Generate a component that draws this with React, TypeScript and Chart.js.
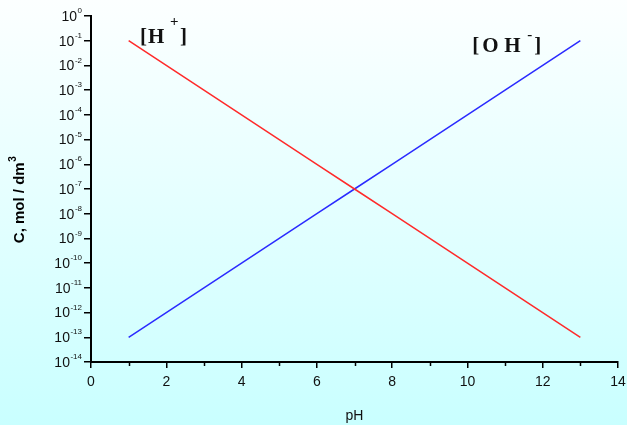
import React, { useEffect, useRef } from 'react';
import { Chart, registerables } from 'chart.js';
Chart.register(...registerables);

// ---- data ----
const PH = [1, 2, 3, 4, 5, 6, 7, 8, 9, 10, 11, 12, 13];
const H_CONC = [1e-1, 1e-2, 1e-3, 1e-4, 1e-5, 1e-6, 1e-7, 1e-8, 1e-9, 1e-10, 1e-11, 1e-12, 1e-13];
const OH_CONC = [1e-13, 1e-12, 1e-11, 1e-10, 1e-9, 1e-8, 1e-7, 1e-6, 1e-5, 1e-4, 1e-3, 1e-2, 1e-1];
const X_MAJOR_STEP = 2;
const X_MINOR_TICKS = [1, 3, 5, 7, 9, 11, 13];
const Y_EXPONENTS = [0, -1, -2, -3, -4, -5, -6, -7, -8, -9, -10, -11, -12, -13, -14];
const X_TITLE = 'pH';
const Y_TITLE = 'C, mol / dm';
const Y_TITLE_SUP = '3';
// annotation label anchors in data coords (pH, concentration)
const H_LABEL = { x: 1.3, y: Math.pow(10, -1.09) };
const OH_LABEL = { x: 10.13, y: Math.pow(10, -1.46) };

const SANS = '"Liberation Sans", Arial, sans-serif';
const SERIF = '"Liberation Serif", "Times New Roman", serif';

const overlay = {
  id: 'overlay',
  afterDraw(chart: any) {
    const ctx = chart.ctx as CanvasRenderingContext2D;
    const xs = chart.scales.x;
    const ys = chart.scales.y;
    const area = chart.chartArea;
    ctx.save();

    // y tick labels 10^e
    ctx.fillStyle = '#111';
    ctx.textBaseline = 'middle';
    for (const e of Y_EXPONENTS) {
      const y = ys.getPixelForValue(Math.pow(10, e));
      const expStr = e === 0 ? '0' : '-' + Math.abs(e);
      ctx.font = '8px ' + SANS;
      const ew = ctx.measureText(expStr).width;
      const right = area.left - 9;
      ctx.textAlign = 'left';
      ctx.fillText(expStr, right - ew, y - 5);
      ctx.font = '14px ' + SANS;
      ctx.textAlign = 'right';
      ctx.fillText('10', right - ew - 0.5, y + 1);
    }

    // minor x ticks
    ctx.strokeStyle = '#000';
    ctx.lineWidth = 1.5;
    for (const v of X_MINOR_TICKS) {
      const px = Math.round(xs.getPixelForValue(v)) + 0.5;
      ctx.beginPath();
      ctx.moveTo(px, area.bottom);
      ctx.lineTo(px, area.bottom + 4);
      ctx.stroke();
    }

    // y title (rotated)
    ctx.save();
    ctx.translate(20, (area.top + area.bottom) / 2 + 11);
    ctx.rotate(-Math.PI / 2);
    ctx.font = 'bold 15px ' + SANS;
    const tw = ctx.measureText(Y_TITLE).width;
    ctx.font = 'bold 10px ' + SANS;
    const sw = ctx.measureText(Y_TITLE_SUP).width;
    const start = -(tw + sw) / 2;
    ctx.fillStyle = '#000';
    ctx.textAlign = 'left';
    ctx.textBaseline = 'middle';
    ctx.font = 'bold 15px ' + SANS;
    ctx.fillText(Y_TITLE, start, 0);
    ctx.font = 'bold 10px ' + SANS;
    ctx.fillText(Y_TITLE_SUP, start + tw + 0.5, -7);
    ctx.restore();

    // annotation labels
    const drawParts = (ax: number, ay: number, parts: [string, number, number, number][]) => {
      ctx.fillStyle = '#111';
      ctx.textAlign = 'left';
      ctx.textBaseline = 'alphabetic';
      for (const [ch, dx, dy, size] of parts) {
        ctx.font = 'bold ' + size + 'px ' + SERIF;
        ctx.fillText(ch, ax + dx, ay + dy);
      }
    };
    drawParts(xs.getPixelForValue(H_LABEL.x), ys.getPixelForValue(H_LABEL.y), [
      ['[', 0, 0, 21],
      ['H', 8, 0, 21],
      ['+', 30, -17, 15],
      [']', 40, 0, 21],
    ]);
    drawParts(xs.getPixelForValue(OH_LABEL.x), ys.getPixelForValue(OH_LABEL.y), [
      ['[', 0, 0, 21],
      ['O', 10, 0, 21],
      ['H', 32, 0, 21],
      ['-', 55, -13, 15],
      [']', 62, 0, 21],
    ]);

    ctx.restore();
  },
};

export default function App() {
  const ref = useRef<HTMLCanvasElement | null>(null);
  useEffect(() => {
    if (!ref.current) return;
    const chart = new Chart(ref.current, {
      type: 'line',
      data: {
        labels: PH,
        datasets: [
          {
            label: '[H+]',
            data: PH.map((p, i) => ({ x: p, y: H_CONC[i] })),
            borderColor: '#ff2a2a',
            borderWidth: 1.5,
            pointRadius: 0,
            tension: 0,
            fill: false,
          },
          {
            label: '[OH-]',
            data: PH.map((p, i) => ({ x: p, y: OH_CONC[i] })),
            borderColor: '#2a2aff',
            borderWidth: 1.5,
            pointRadius: 0,
            tension: 0,
            fill: false,
          },
        ],
      },
      options: {
        responsive: false,
        animation: false,
        devicePixelRatio: 1,
        layout: { padding: { top: 16, right: 9, left: 0, bottom: 0 } },
        plugins: { legend: { display: false }, tooltip: { enabled: false }, title: { display: false } },
        scales: {
          x: {
            type: 'linear',
            min: 0,
            max: 14,
            ticks: {
              stepSize: X_MAJOR_STEP,
              color: '#111',
              font: { family: SANS, size: 14 },
              padding: 6,
              maxRotation: 0,
            },
            grid: { drawOnChartArea: false, color: '#000', lineWidth: 1.5, tickLength: 6 },
            border: { display: true, color: '#000', width: 2 },
            title: {
              display: true,
              text: X_TITLE,
              color: '#111',
              font: { family: SANS, size: 14 },
              padding: { top: 2, bottom: 0 },
            },
            afterFit: (s: any) => {
              s.height = 63;
              s.paddingLeft = 0;
              s.paddingRight = 0;
            },
          },
          y: {
            type: 'logarithmic',
            min: 1e-14,
            max: 1,
            ticks: { display: false },
            afterBuildTicks: (s: any) => {
              s.ticks = Y_EXPONENTS.map((e) => ({ value: Math.pow(10, e) }));
            },
            grid: { drawOnChartArea: false, color: '#000', lineWidth: 1.5, tickLength: 7 },
            border: { display: true, color: '#000', width: 2 },
            afterFit: (s: any) => {
              s.width = 91;
              s.paddingTop = 0;
              s.paddingBottom = 0;
            },
          },
        },
      },
      plugins: [overlay],
    });
    return () => chart.destroy();
  }, []);
  return (
    <div
      style={{
        position: 'absolute',
        left: 0,
        top: 0,
        width: 627,
        height: 425,
        background: 'linear-gradient(to bottom, #fcffff 0%, #e6ffff 45%, #c9ffff 100%)',
      }}
    >
      <canvas ref={ref} width={627} height={425} style={{ display: 'block' }} />
    </div>
  );
}
